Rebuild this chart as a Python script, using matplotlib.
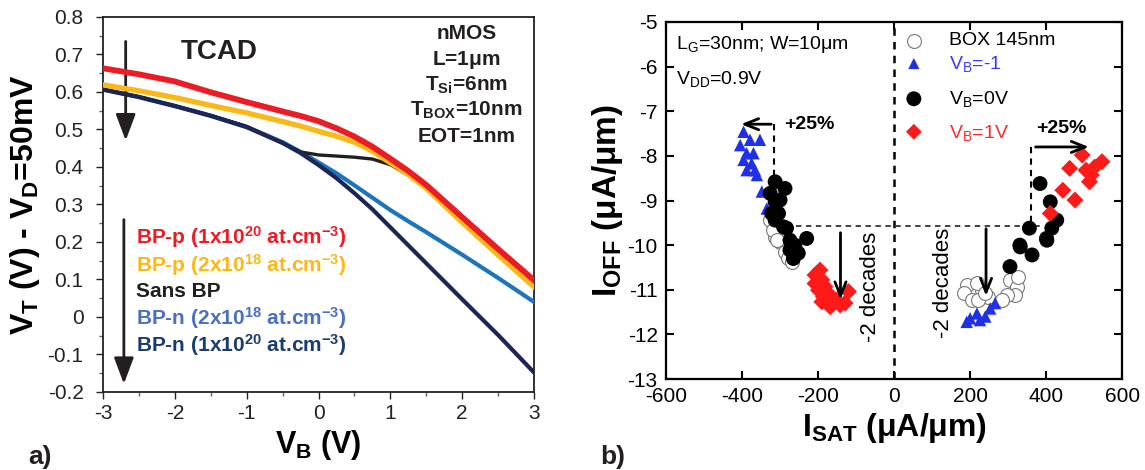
import numpy as np
import matplotlib
matplotlib.use("Agg")
import matplotlib.pyplot as plt
from matplotlib.ticker import MultipleLocator

plt.rcParams['font.family'] = ['Liberation Sans', 'DejaVu Sans']
plt.rcParams['mathtext.fontset'] = 'custom'
plt.rcParams['mathtext.rm'] = 'Liberation Sans'
plt.rcParams['mathtext.it'] = 'Liberation Sans:italic'
plt.rcParams['mathtext.bf'] = 'Liberation Sans:bold'
plt.rcParams['axes.unicode_minus'] = False

# ---- panel a) : TCAD V_T vs V_B ----
vb = [-3, -2.5, -2, -1.5, -1, -0.5, -0.25, 0, 0.25, 0.5, 0.75, 1, 1.25, 1.5, 2, 2.5, 3]
vt_bpp_1e20 = [0.663, 0.647, 0.628, 0.599, 0.573, 0.548, 0.536, 0.522, 0.503, 0.481, 0.454, 0.422, 0.389, 0.352, 0.266, 0.181, 0.098]
vt_bpp_2e18 = [0.619, 0.603, 0.585, 0.564, 0.544, 0.521, 0.509, 0.495, 0.482, 0.466, 0.442, 0.411, 0.380, 0.343, 0.252, 0.165, 0.080]
vt_sans_bp = [0.607, 0.587, 0.563, 0.537, 0.508, 0.463, 0.440, 0.432, 0.429, 0.426, 0.421, 0.406, 0.378, 0.343, 0.252, 0.165, 0.080]
vt_bpn_2e18 = [0.607, 0.587, 0.563, 0.537, 0.507, 0.466, 0.440, 0.412, 0.383, 0.351, 0.318, 0.285, 0.255, 0.226, 0.166, 0.104, 0.040]
vt_bpn_1e20 = [0.606, 0.586, 0.562, 0.536, 0.506, 0.464, 0.437, 0.405, 0.370, 0.330, 0.287, 0.239, 0.191, 0.143, 0.047, -0.048, -0.148]
vb_ticks = [-3, -2, -1, 0, 1, 2, 3]
vt_ticks = [-0.2, -0.1, 0, 0.1, 0.2, 0.3, 0.4, 0.5, 0.6, 0.7, 0.8]
vt_ticklabels = ['-0.2', '-0.1', '0', '0.1', '0.2', '0.3', '0.4', '0.5', '0.6', '0.7', '0.8']

# ---- panel b) : I_OFF vs I_SAT ----
box_x = [-326, -313, -300, -287, -279, -269, -319, -309,
         191, 183, 205, 231, 248, 222, 305, 323, 319, 297, 284, 327, 219, 238]
box_y = [-9.44, -9.81, -9.92, -10.15, -10.29, -10.37, -9.66, -9.88,
         -10.89, -11.08, -11.23, -11.01, -11.16, -11.23, -10.78, -10.93, -11.12, -11.12, -11.23, -10.71, -10.85, -11.08]
vbm1_x = [-396, -405, -379, -353, -388, -370, -396, -375, -388, -366, -361, -348, -335,
          200, 218, 240, 253, 266, 226, 191]
vbm1_y = [-7.46, -7.76, -7.64, -7.64, -7.94, -7.94, -8.09, -8.17, -8.32, -8.32, -8.43, -8.80, -9.18,
          -11.64, -11.53, -11.60, -11.42, -11.30, -11.68, -11.72]
vb0_x = [-313, -287, -326, -313, -300, -322, -304, -313, -291, -283, -274, -261, -230, -274, -252, -265,
         384, 411, 428, 415, 402, 356, 332, 363, 305, 401, 331]
vb0_y = [-8.58, -8.73, -8.84, -9.03, -8.99, -9.29, -9.29, -9.44, -9.59, -9.62, -9.89, -10.00, -9.85, -10.11, -10.18, -10.30,
         -8.62, -9.03, -9.44, -9.62, -9.89, -9.62, -10.04, -10.22, -10.48, -9.85, -10.00]
vbp1_x = [-195, -208, -190, -208, -199, -182, -186, -168, -151, -142, -168, -129, -120, -190,
          495, 462, 505, 519, 547, 514, 444, 476, 411, 528]
vbp1_y = [-10.56, -10.67, -10.78, -10.86, -11.01, -10.93, -11.16, -11.12, -11.23, -11.34, -11.38, -11.30, -11.04, -11.27,
          -7.98, -8.28, -8.32, -8.43, -8.13, -8.58, -8.77, -8.99, -9.29, -8.25]
isat_ticks = [-600, -400, -200, 0, 200, 400, 600]
ioff_ticks = [-13, -12, -11, -10, -9, -8, -7, -6, -5]

fig = plt.figure(figsize=(11.45, 4.7), dpi=100)

# ================= panel a =================
ax1 = fig.add_axes([0.0900, 0.1660, 0.3764, 0.7980])
ax1.plot(vb, vt_bpn_2e18, color='#1b75bc', lw=3.0, zorder=3)
ax1.plot(vb, vt_sans_bp, color='#231f20', lw=2.4, zorder=3)
ax1.plot(vb, vt_bpn_1e20, color='#1c2556', lw=3.0, zorder=4)
ax1.plot(vb, vt_bpp_2e18, color='#fbb917', lw=3.8, zorder=5)
ax1.plot(vb, vt_bpp_1e20, color='#ec1c24', lw=4.2, zorder=6)

ax1.set_xlim(-3, 3)
ax1.set_ylim(-0.2, 0.8)
ax1.set_xticks(vb_ticks)
ax1.set_xticklabels([str(v) for v in vb_ticks])
ax1.set_yticks(vt_ticks)
ax1.set_yticklabels(vt_ticklabels)
ax1.xaxis.set_minor_locator(MultipleLocator(0.5))
ax1.yaxis.set_minor_locator(MultipleLocator(0.05))
ax1.tick_params(which='major', direction='out', length=5, width=1, labelsize=15, colors='#222222')
ax1.tick_params(axis='y', which='major', pad=9)
ax1.tick_params(which='minor', direction='out', length=3, width=1, colors='#666666')
for s in ax1.spines.values():
    s.set_linewidth(1.3)
    s.set_color('#222222')

ax1.set_ylabel(r'V$_\mathbf{T}$ (V) - V$_\mathbf{D}$=50mV', fontsize=23, fontweight='bold', labelpad=4)
ax1.set_xlabel(r'V$_\mathbf{B}$ (V)', fontsize=22, fontweight='bold', labelpad=4)

ax1.text(-1.39, 0.707, 'TCAD', fontsize=20, fontweight='bold', ha='center', va='center', color='#231f20')
info_lines = ['nMOS', r'L=1$\mathbf{\mu}$m', r'T$_\mathbf{Si}$=6nm', r'T$_\mathbf{BOX}$=10nm', 'EOT=1nm']
info_y = [0.756, 0.685, 0.618, 0.551, 0.480]
for t, y in zip(info_lines, info_y):
    ax1.text(2.06, y, t, fontsize=15, fontweight='bold', ha='center', va='center', color='#231f20')

leg_labels = [r'BP-p (1x10$^\mathbf{20}$ at.cm$^\mathbf{-3}$)',
              r'BP-p (2x10$^\mathbf{18}$ at.cm$^\mathbf{-3}$)',
              'Sans BP',
              r'BP-n (2x10$^\mathbf{18}$ at.cm$^\mathbf{-3}$)',
              r'BP-n (1x10$^\mathbf{20}$ at.cm$^\mathbf{-3}$)']
leg_colors = ['#ec1c24', '#fbb917', '#231f20', '#4a6fc4', '#1b3c6e']
leg_y = [0.214, 0.139, 0.067, -0.004, -0.075]
for t, c, y in zip(leg_labels, leg_colors, leg_y):
    ax1.text(-2.54, y, t, fontsize=15, fontweight='bold', color=c, ha='left', va='center')

ax1.annotate('', xy=(-2.685, 0.463), xytext=(-2.685, 0.742),
             arrowprops=dict(arrowstyle='-|>,head_length=1.6,head_width=0.6', color='#231f20', lw=2))
ax1.annotate('', xy=(-2.71, -0.186), xytext=(-2.71, 0.267),
             arrowprops=dict(arrowstyle='-|>,head_length=1.6,head_width=0.6', color='#231f20', lw=2))

fig.text(0.025, 0.027, 'a)', fontsize=19, fontweight='bold', ha='left', va='center', color='#231f20')

# ================= panel b =================
ax2 = fig.add_axes([0.5817, 0.1936, 0.3983, 0.7596])
ax2.set_xlim(-600, 600)
ax2.set_ylim(-13, -5)

ax2.plot([0, 0], [-13, -5], ls=(0, (3, 2.5)), color='black', lw=1.8, zorder=1)
ax2.plot([-258, 392], [-9.57, -9.57], ls=(0, (3, 2.5)), color='#333333', lw=1.3, zorder=1)
ax2.plot([-316, -316], [-7.29, -8.55], ls=(0, (3, 2.5)), color='black', lw=1.5, zorder=1)
ax2.plot([359, 359], [-7.8, -9.59], ls=(0, (3, 2.5)), color='black', lw=1.5, zorder=1)

ax2.scatter(box_x, box_y, s=100, facecolors='white', edgecolors='#777777', linewidths=0.8, zorder=2)
ax2.scatter(vbm1_x, vbm1_y, s=80, marker='^', color='#1f30e6', edgecolors='none', zorder=3)
ax2.scatter(vb0_x, vb0_y, s=115, marker='o', color='black', edgecolors='none', zorder=4)
ax2.scatter(vbp1_x, vbp1_y, s=75, marker='D', color='#ff1a1a', edgecolors='none', zorder=5)

arrow_kw = dict(arrowstyle='->,head_length=1.0,head_width=0.4', color='black', lw=2)
ax2.annotate('', xy=(-410, -7.29), xytext=(-316, -7.29), arrowprops=arrow_kw, zorder=6)
ax2.annotate('', xy=(520, -7.8), xytext=(365, -7.8), arrowprops=arrow_kw, zorder=6)
ax2.annotate('', xy=(-141, -11.28), xytext=(-141, -9.66), arrowprops=arrow_kw, zorder=6)
ax2.annotate('', xy=(242, -11.2), xytext=(242, -9.57), arrowprops=arrow_kw, zorder=6)

ax2.text(-290, -7.3, '+25%', fontsize=14, fontweight='bold', ha='left', va='center')
ax2.text(441, -7.38, '+25%', fontsize=14, fontweight='bold', ha='center', va='center')
ax2.text(-62, -10.93, '-2 decades', fontsize=16, rotation=90, ha='center', va='center')
ax2.text(130, -10.85, '-2 decades', fontsize=16, rotation=90, ha='center', va='center')

ax2.text(-574, -5.5, r'L$_\mathrm{G}$=30nm; W=10μm', fontsize=14, ha='left', va='center')
ax2.text(-574, -6.28, r'V$_\mathrm{DD}$=0.9V', fontsize=14, ha='left', va='center')

# legend drawn by hand to keep its look
leg_mx = 52
leg_tx = 145
ax2.scatter([leg_mx], [-5.42], s=100, facecolors='white', edgecolors='#777777', linewidths=0.8)
ax2.scatter([leg_mx], [-5.93], s=65, marker='^', color='#1f30e6', edgecolors='none')
ax2.scatter([leg_mx], [-6.72], s=115, marker='o', color='black', edgecolors='none')
ax2.scatter([leg_mx], [-7.46], s=65, marker='D', color='#ff1a1a', edgecolors='none')
ax2.text(leg_tx, -5.42, 'BOX 145nm', fontsize=14, ha='left', va='center')
ax2.text(leg_tx, -5.95, r'V$_\mathrm{B}$=-1', fontsize=14, ha='left', va='center', color='#3a3aff')
ax2.text(leg_tx, -6.72, r'V$_\mathrm{B}$=0V', fontsize=14, ha='left', va='center')
ax2.text(leg_tx, -7.48, r'V$_\mathrm{B}$=1V', fontsize=14, ha='left', va='center', color='#ff2a2a')

ax2.set_xticks(isat_ticks)
ax2.set_yticks(ioff_ticks)
ax2.tick_params(direction='in', length=6, width=1.5, top=True, right=True, labelsize=15, pad=6)
for s in ax2.spines.values():
    s.set_linewidth(1.6)

ax2.set_ylabel(r'I$_\mathbf{OFF}$ (μA/μm)', fontsize=24, fontweight='bold', labelpad=2)
ax2.set_xlabel(r'I$_\mathbf{SAT}$ (μA/μm)', fontsize=23, fontweight='bold', labelpad=3)

fig.text(0.524, 0.027, 'b)', fontsize=19, fontweight='bold', ha='left', va='center', color='#231f20')

fig.savefig('out.png', dpi=100)
